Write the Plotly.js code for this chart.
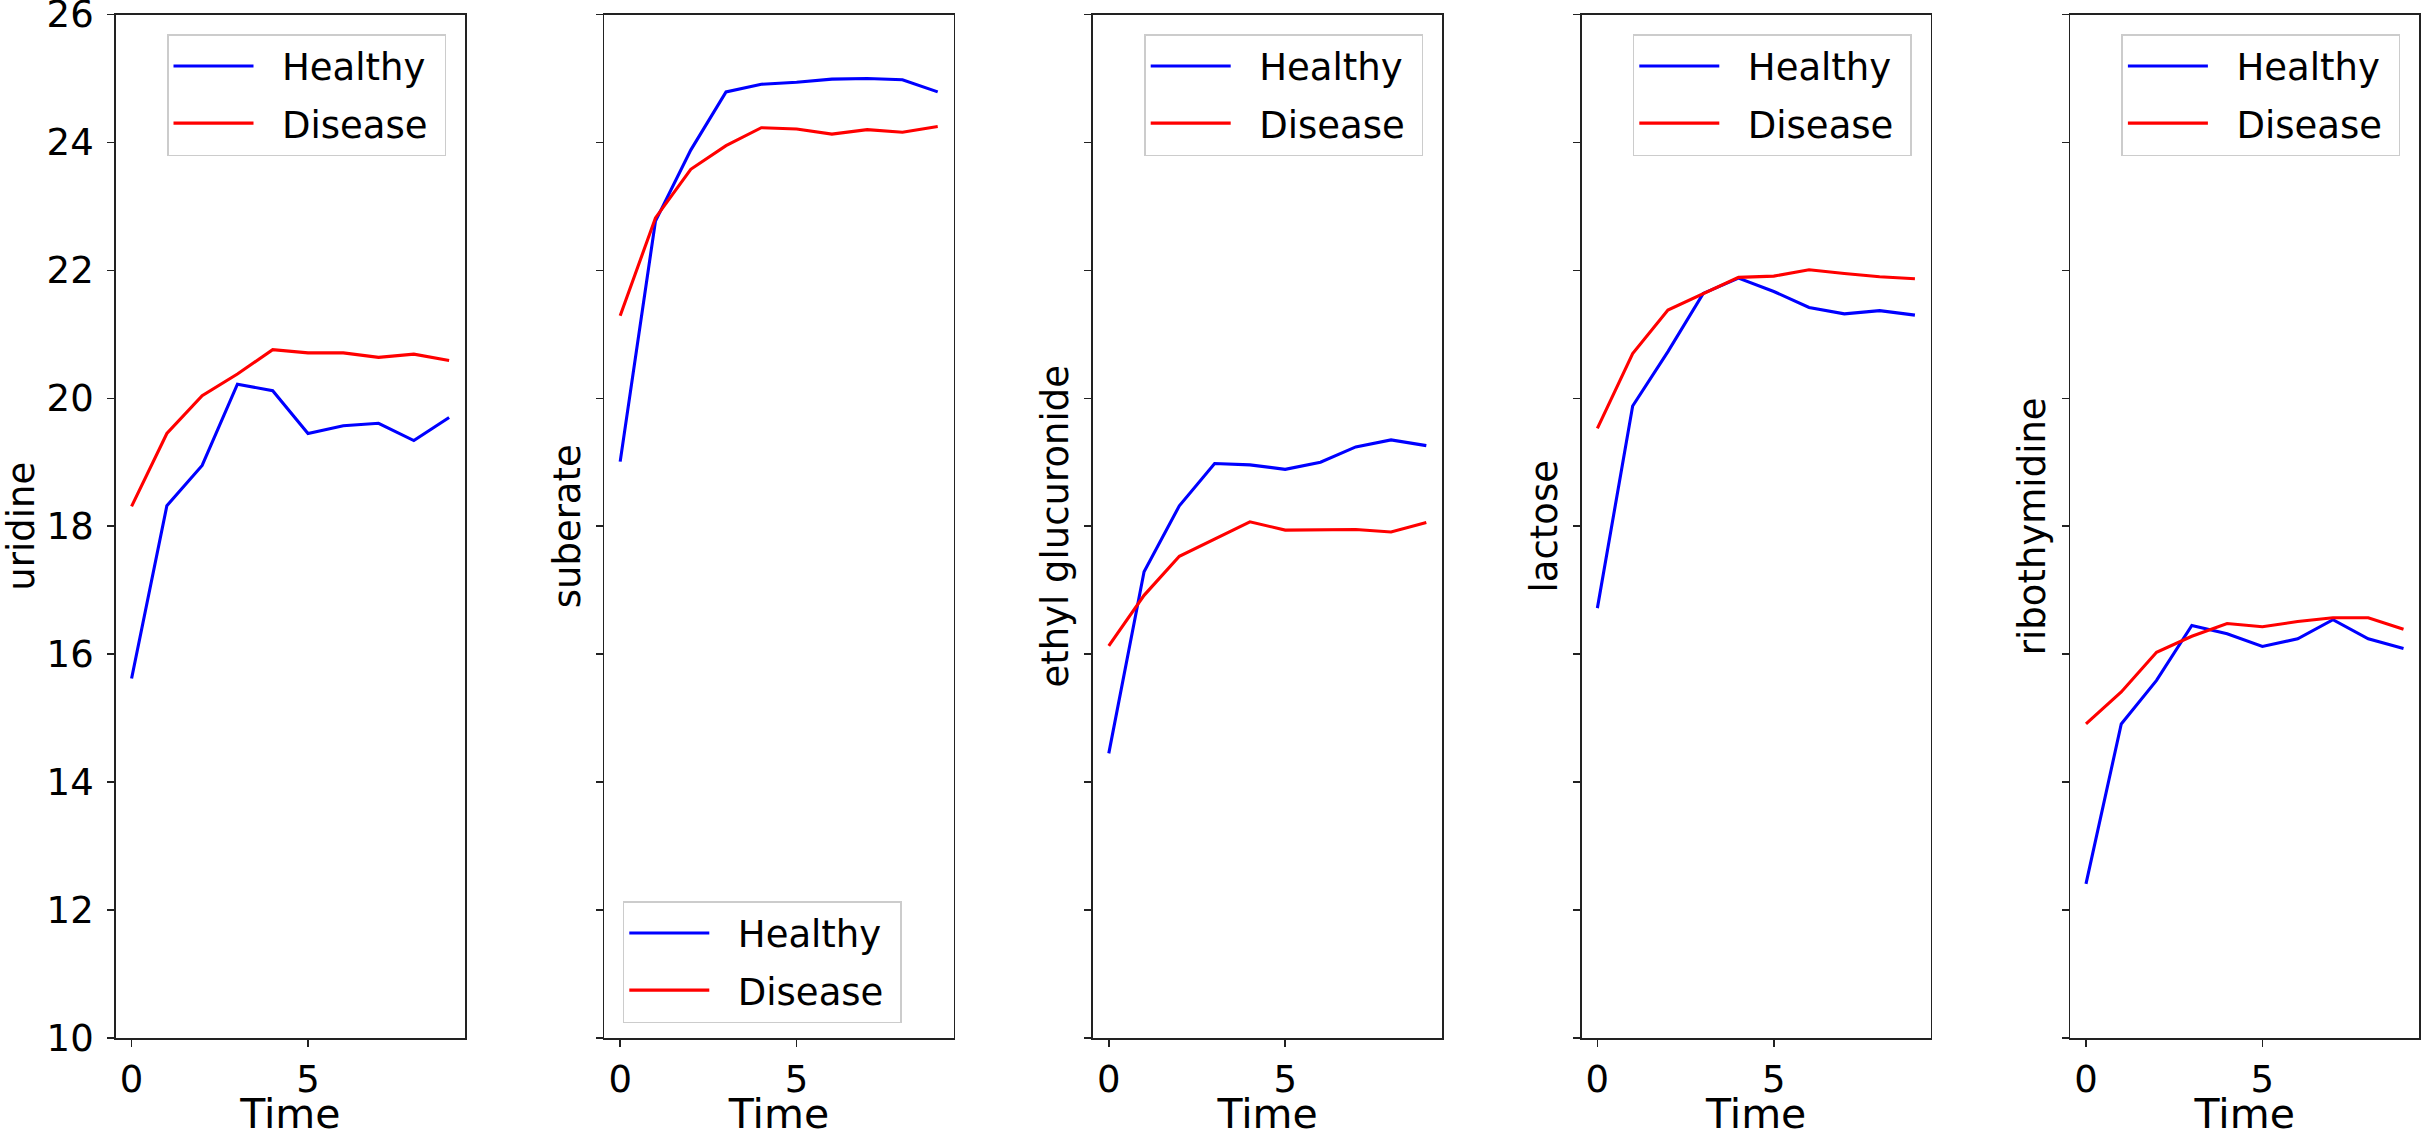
<!DOCTYPE html>
<html>
<head>
<meta charset="utf-8">
<script src="https://cdn.plot.ly/plotly-3.0.1.min.js"></script>
<style>
  html, body { margin: 0; padding: 0; background: #ffffff; }
  #chart { width: 2428px; height: 1138px; }
</style>
</head>
<body>
<div id="chart"></div>
<script>
// ---------------- DATA ----------------
const time = [0, 1, 2, 3, 4, 5, 6, 7, 8, 9];

const metabolites = ["uridine", "suberate", "ethyl glucuronide", "lactose", "ribothymidine"];
const seriesNames = ["Healthy", "Disease"];

const uridineHealthy = [15.62, 18.32, 18.95, 20.22, 20.12, 19.45, 19.57, 19.61, 19.34, 19.70];
const uridineDisease = [18.31, 19.45, 20.04, 20.38, 20.76, 20.71, 20.71, 20.64, 20.69, 20.59];

const suberateHealthy = [19.01, 22.77, 23.88, 24.79, 24.91, 24.94, 24.99, 25.00, 24.98, 24.79];
const suberateDisease = [21.29, 22.82, 23.58, 23.95, 24.23, 24.21, 24.13, 24.20, 24.16, 24.25];

const ethylGlucHealthy = [14.45, 17.29, 18.32, 18.98, 18.96, 18.89, 19.00, 19.24, 19.35, 19.26];
const ethylGlucDisease = [16.13, 16.92, 17.53, 17.80, 18.07, 17.94, 17.94, 17.95, 17.91, 18.06];

const lactoseHealthy = [16.72, 19.88, 20.73, 21.64, 21.88, 21.67, 21.42, 21.32, 21.37, 21.30];
const lactoseDisease = [19.53, 20.70, 21.38, 21.64, 21.89, 21.91, 22.01, 21.95, 21.90, 21.87];

const ribothymidineHealthy = [12.41, 14.91, 15.59, 16.45, 16.32, 16.12, 16.24, 16.54, 16.24, 16.09];
const ribothymidineDisease = [14.91, 15.41, 16.03, 16.28, 16.48, 16.43, 16.51, 16.57, 16.57, 16.39];

const yTickVals = [10, 12, 14, 16, 18, 20, 22, 24, 26];
const xTickVals = [0, 5];

// ---------------- BUILD ----------------
const healthyByPanel = [uridineHealthy, suberateHealthy, ethylGlucHealthy, lactoseHealthy, ribothymidineHealthy];
const diseaseByPanel = [uridineDisease, suberateDisease, ethylGlucDisease, lactoseDisease, ribothymidineDisease];
const colors = ["#0000ff", "#ff0000"];

const W = 2428, H = 1138;
const panelLeft0 = 115.7, panelSpacing = 488.6, panelWidth = 349.3;
const yDomain = [1 - 1038 / H, 1 - 14.5 / H];
const FONT = "DejaVu Sans, sans-serif";
const AXC = "#222222";
const NB = "\u00a0\u00a0";  // gap between legend handle and its label
const NB_END = "\u00a0";    // right padding inside legend box

const traces = [];
const layout = {
  width: W, height: H,
  margin: { l: 0, r: 0, t: 0, b: 0, pad: 0 },
  paper_bgcolor: "#ffffff",
  plot_bgcolor: "#ffffff",
  font: { family: FONT, color: "#000000" },
  showlegend: true
};

for (let i = 0; i < metabolites.length; i++) {
  const n = i + 1;
  const xa = n === 1 ? "x" : "x" + n;
  const ya = n === 1 ? "y" : "y" + n;
  const lg = n === 1 ? "legend" : "legend" + n;
  const data = [healthyByPanel[i], diseaseByPanel[i]];
  for (let s = 0; s < 2; s++) {
    traces.push({
      type: "scatter", mode: "lines",
      x: time, y: data[s],
      name: NB + seriesNames[s] + NB_END,
      xaxis: xa, yaxis: ya,
      legend: lg,
      legendgroup: seriesNames[s] + n,
      line: { color: colors[s], width: 3.1 },
      hoverinfo: "skip"
    });
  }
  const left = panelLeft0 + i * panelSpacing;
  const right = left + panelWidth;
  layout[n === 1 ? "xaxis" : "xaxis" + n] = {
    domain: [left / W, right / W],
    anchor: ya,
    range: [-0.45, 9.45],
    tickmode: "array", tickvals: xTickVals,
    ticks: "outside", ticklen: 7, tickwidth: 1.6, tickcolor: AXC,
    showline: true, mirror: true, linecolor: AXC, linewidth: 1.6,
    showgrid: false, zeroline: false,
    tickfont: { family: FONT, size: 37, color: "#000" },
    ticklabelstandoff: 1,
    title: { text: "Time", font: { family: FONT, size: 41, color: "#000" }, standoff: 12 },
    automargin: false, fixedrange: true
  };
  layout[n === 1 ? "yaxis" : "yaxis" + n] = {
    domain: yDomain,
    anchor: xa,
    range: [10, 26],
    tickmode: "array", tickvals: yTickVals,
    showticklabels: n === 1,
    ticklabeloverflow: "allow",
    ticks: "outside", ticklen: 7, tickwidth: 1.6, tickcolor: AXC,
    showline: true, mirror: true, linecolor: AXC, linewidth: 1.6,
    showgrid: false, zeroline: false,
    tickfont: { family: FONT, size: 37, color: "#000" },
    ticklabelstandoff: 6,
    title: { text: metabolites[i], font: { family: FONT, size: 37, color: "#000" }, standoff: n === 1 ? 6 : 4 },
    automargin: false, fixedrange: true
  };
  const legendBase = {
    bgcolor: "rgba(255,255,255,0.8)",
    bordercolor: "#cccccc", borderwidth: 1.5,
    font: { family: FONT, size: 37, color: "#000" },
    traceorder: "grouped", tracegroupgap: 6,
    itemwidth: 80, itemclick: false, itemdoubleclick: false
  };
  if (n === 2) {
    layout[lg] = Object.assign({}, legendBase, {
      x: (left + 18.5) / W, xanchor: "left",
      y: 1 - 1023 / H, yanchor: "bottom"
    });
  } else {
    layout[lg] = Object.assign({}, legendBase, {
      x: (right - 19) / W, xanchor: "right",
      y: 1 - 34 / H, yanchor: "top"
    });
  }
}

Plotly.newPlot("chart", traces, layout, { displayModeBar: false, staticPlot: true });
</script>
</body>
</html>
